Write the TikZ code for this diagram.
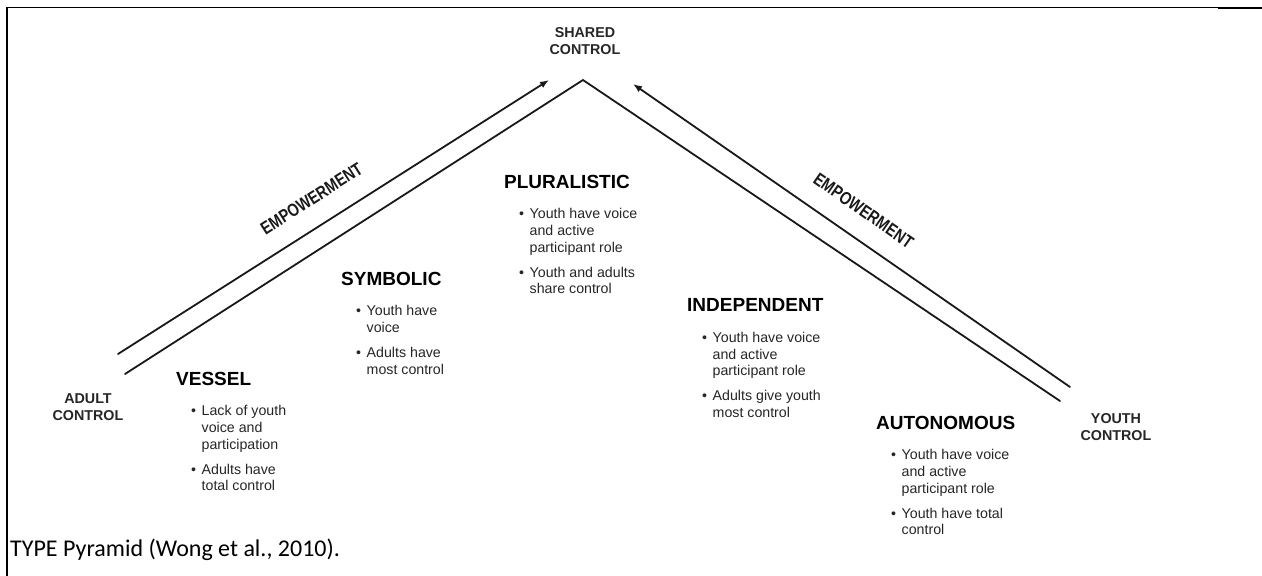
\documentclass[tikz,border=0pt]{standalone}
\usepackage{fontspec}
\setmainfont{Liberation Sans}
\newfontfamily\capfont{Carlito}
\usetikzlibrary{arrows.meta}
\newcommand{\titlef}{\fontsize{19}{19}\selectfont\bfseries\color{black}}
\newcommand{\bodyf}{\fontsize{14.2}{16.7}\selectfont}
\newcommand{\itm}[1]{\hspace*{15pt}\makebox[10.5pt][l]{\textbullet}#1}
\newcommand{\cnt}[1]{\\\hspace*{25.5pt}#1}
\newcommand{\blk}[2]{\parbox[t]{170pt}{\raggedright\bodyf{\titlef #1}\\[14pt]#2}}
\newcommand{\emptext}{\scalebox{0.8}[1]{\fontsize{18}{18}\selectfont\bfseries EMPOWERMENT}}
\begin{document}
\begin{tikzpicture}[x=1pt,y=-1pt,line cap=round]
\tikzset{
  arm/.style={line width=1.8pt,black!90},
  emp/.style={-{Latex[length=9pt,width=7pt]},line width=1.8pt,black!90},
  empr/.style={{Latex[length=9pt,width=7pt]}-,line width=1.8pt,black!90},
  ctl/.style={font=\fontsize{14.3}{17}\selectfont\bfseries,align=center,inner sep=0pt,text=black!85},
  blocknode/.style={anchor=base west,inner sep=0pt,text=black!85},
  emplabel/.style={sloped,inner sep=0pt,text=black!90},
  frame/.style={line cap=butt}
}
\useasboundingbox (0,0) rectangle (1262,576);
\fill[white] (0,0) rectangle (1262,576);
% frame
\draw[frame,line width=2pt] (7,576) -- (7,6.5);
\draw[frame,line width=1pt] (6,7) -- (1218,7);
\draw[frame,line width=2.5pt] (1218,8) -- (1262,8);
% geometry
\coordinate (apex) at (583,80);
\coordinate (inL) at (125,374);
\coordinate (inR) at (1060,401);
\coordinate (outL) at (118,354);
\coordinate (tipL) at (549,80);
\coordinate (outR) at (1070,387);
\coordinate (tipR) at (633,84);
\draw[arm] (inL) -- (apex) -- (inR);
\draw[emp] (outL) -- node[emplabel,pos=0.483,above=20pt] (empL) {\emptext} (tipL);
\draw[empr] (tipR) -- node[emplabel,pos=0.492,above=20pt] (empR) {\emptext} (outR);
% control labels
\node[ctl] (shared) at (585,41) {SHARED\\CONTROL};
\node[ctl] (adult) at (88,407) {ADULT\\CONTROL};
\node[ctl] (youth) at (1116,427) {YOUTH\\CONTROL};
% blocks
\node[blocknode] (vessel) at (176,371.8) {\blk{VESSEL}{\itm{Lack of youth}\cnt{voice and}\cnt{participation}\\[8.3pt]\itm{Adults have}\cnt{total control}}};
\node[blocknode] (symbolic) at (341,271.8) {\blk{SYMBOLIC}{\itm{Youth have}\cnt{voice}\\[8.3pt]\itm{Adults have}\cnt{most control}}};
\node[blocknode] (pluralistic) at (504,174.8) {\blk{PLURALISTIC}{\itm{Youth have voice}\cnt{and active}\cnt{participant role}\\[8.3pt]\itm{Youth and adults}\cnt{share control}}};
\node[blocknode] (independent) at (687,298.8) {\blk{INDEPENDENT}{\itm{Youth have voice}\cnt{and active}\cnt{participant role}\\[8.3pt]\itm{Adults give youth}\cnt{most control}}};
\node[blocknode] (autonomous) at (876,415.8) {\blk{AUTONOMOUS}{\itm{Youth have voice}\cnt{and active}\cnt{participant role}\\[8.3pt]\itm{Youth have total}\cnt{control}}};
% caption
\node[anchor=base west,inner sep=0pt,font=\capfont\fontsize{24}{24}\selectfont] (caption) at (10,556) {TYPE Pyramid (Wong et al., 2010).};
\end{tikzpicture}
\end{document}
